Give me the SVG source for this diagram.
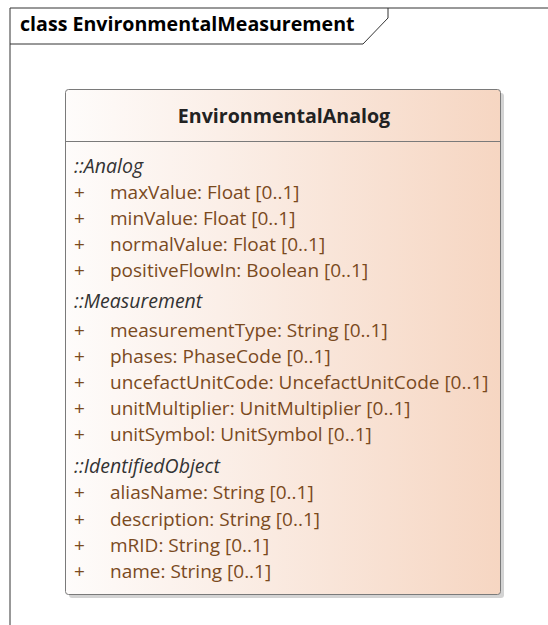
<svg xmlns="http://www.w3.org/2000/svg" width="548" height="625" viewBox="0 0 548 625">
<style>
.frame{fill:none;stroke:#333;stroke-width:1}
.ftitle{font-family:"Open Sans","DejaVu Sans",sans-serif;font-weight:bold;font-size:19.6px;fill:#000}
.cname{font-family:"Open Sans","DejaVu Sans",sans-serif;font-weight:bold;font-size:19.6px;fill:#222}
.sec{font-family:"Open Sans","DejaVu Sans",sans-serif;font-style:italic;font-size:19.5px;fill:#333}
.attr{font-family:"Open Sans","DejaVu Sans",sans-serif;font-size:19px;fill:#7a4a1e}
</style>
<defs>
<linearGradient id="g" x1="0" y1="0" x2="1" y2="0">
<stop offset="0" stop-color="#fefcfb"/>
<stop offset="0.35" stop-color="#fbefe8"/>
<stop offset="1" stop-color="#f6d6c2"/>
</linearGradient>
</defs>
<rect width="548" height="625" fill="#fff"/>
<g id="frame">
<path class="frame" d="M10,625 V8 H548"/>
<path class="frame" d="M10,44 H363 L388,18 V8"/>
<text class="ftitle" x="20" y="31">class EnvironmentalMeasurement</text>
</g>
<g id="EnvironmentalAnalog">
<rect x="69" y="93" width="435" height="505" rx="3" fill="#c8c8c8" opacity="0.8"/>
<rect x="65.5" y="89.5" width="435" height="505" rx="3" fill="url(#g)" stroke="#7a7a7a" stroke-width="1"/>
<line x1="65.5" y1="141.5" x2="500.5" y2="141.5" stroke="#7a7a7a"/>
<text class="cname" x="284" y="123" text-anchor="middle">EnvironmentalAnalog</text>
<text class="sec" x="74" y="173">::Analog</text>
<g class="attr">
<text x="74" y="199">+</text><text x="110" y="199">maxValue: Float [0..1]</text>
<text x="74" y="225">+</text><text x="110" y="225">minValue: Float [0..1]</text>
<text x="74" y="251">+</text><text x="110" y="251">normalValue: Float [0..1]</text>
<text x="74" y="277">+</text><text x="110" y="277">positiveFlowIn: Boolean [0..1]</text>
</g>
<text class="sec" x="74" y="308">::Measurement</text>
<g class="attr">
<text x="74" y="337">+</text><text x="110" y="337">measurementType: String [0..1]</text>
<text x="74" y="363">+</text><text x="110" y="363">phases: PhaseCode [0..1]</text>
<text x="74" y="389">+</text><text x="110" y="389">uncefactUnitCode: UncefactUnitCode [0..1]</text>
<text x="74" y="415">+</text><text x="110" y="415">unitMultiplier: UnitMultiplier [0..1]</text>
<text x="74" y="441">+</text><text x="110" y="441">unitSymbol: UnitSymbol [0..1]</text>
</g>
<text class="sec" x="74" y="473">::IdentifiedObject</text>
<g class="attr">
<text x="74" y="499">+</text><text x="110" y="499">aliasName: String [0..1]</text>
<text x="74" y="526">+</text><text x="110" y="526">description: String [0..1]</text>
<text x="74" y="552">+</text><text x="110" y="552">mRID: String [0..1]</text>
<text x="74" y="578">+</text><text x="110" y="578">name: String [0..1]</text>
</g>
</g>
</svg>
